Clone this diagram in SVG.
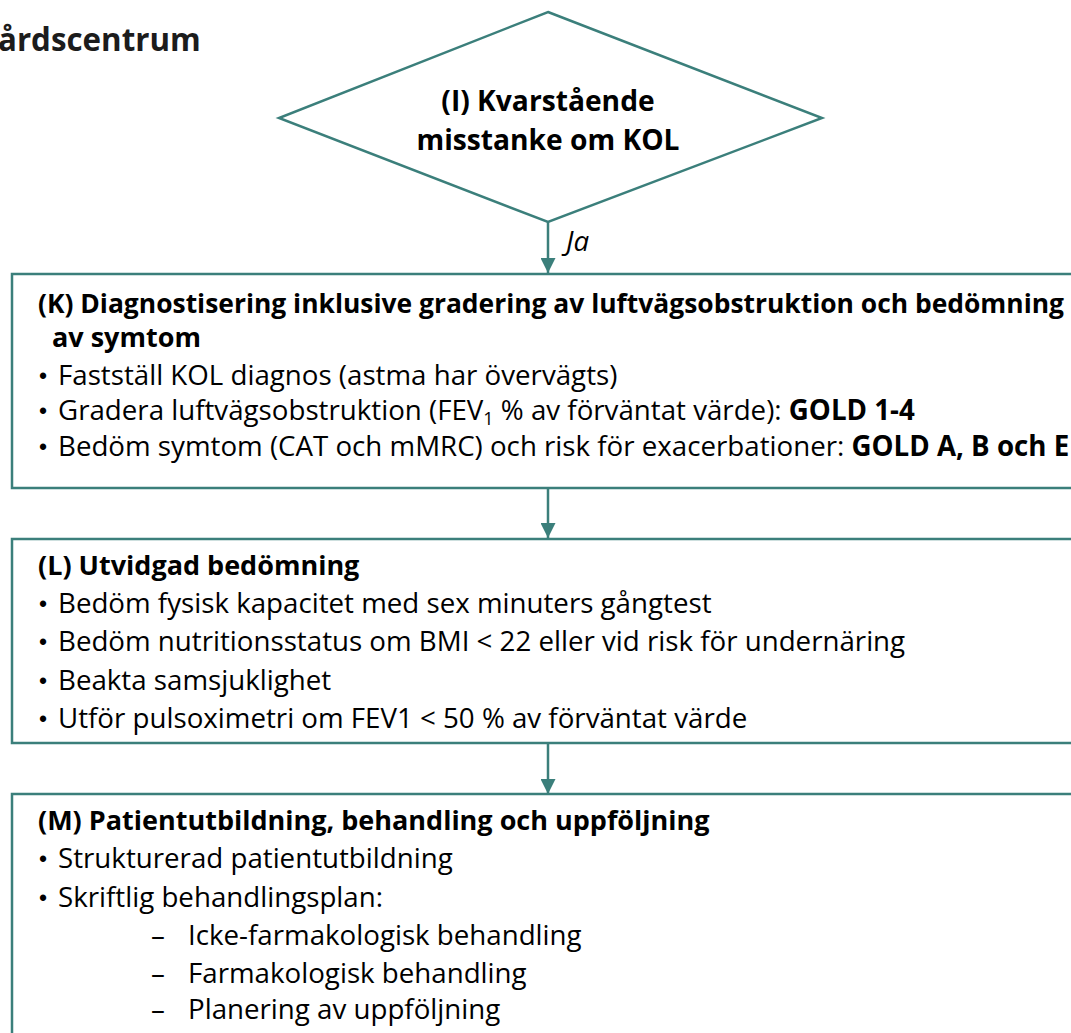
<svg xmlns="http://www.w3.org/2000/svg" width="1071" height="1033" viewBox="0 0 1071 1033">
  <defs>
    <style>
      .t { font-family: "Open Sans", Lato, sans-serif; font-size: 27.7px; fill: #000; }
      .d { font-family: "Open Sans", Lato, sans-serif; font-size: 28.2px; font-weight: bold; fill: #000; }
      .b { font-weight: bold; }
      .h { font-size: 27px; }
      .dot { font-family: "Liberation Sans", Arial, sans-serif; font-size: 23px; fill: #000; }
      .node { fill: #fff; stroke: #3b7f7b; stroke-width: 2.5; }
      .edge { stroke: #3b7f7b; stroke-width: 2.5; fill: none; }
      .hdr { font-family: "Open Sans", "Noto Sans", sans-serif; font-size: 31.3px; font-weight: bold; fill: #1c1c1c; }
    </style>
    <marker id="arr" viewBox="0 0 10 10" refX="10" refY="5" markerWidth="6" markerHeight="6" markerUnits="strokeWidth" orient="auto">
      <path d="M0,0 L10,5 L0,10 z" fill="#3b7f7b"/>
    </marker>
  </defs>
  <rect width="1071" height="1033" fill="#fff"/>

  <text class="hdr" x="-2" y="51">årdscentrum</text>

  <g id="connectors">
    <line class="edge" x1="548" y1="222" x2="548" y2="273" marker-end="url(#arr)"/>
    <text class="t" x="566" y="251" font-style="italic">Ja</text>
    <line class="edge" x1="548" y1="488" x2="548" y2="538" marker-end="url(#arr)"/>
    <line class="edge" x1="548" y1="743" x2="548" y2="794" marker-end="url(#arr)"/>
  </g>

  <g id="node-I">
    <polygon class="node" points="548,12 822,118 548,222 279,118"/>
    <text class="d" x="548" y="111" text-anchor="middle">(I) Kvarstående</text>
    <text class="d" x="548" y="150" text-anchor="middle">misstanke om KOL</text>
  </g>

  <g id="node-K">
    <rect class="node" x="12" y="274" width="1080" height="214"/>
    <text class="t b h" x="38" y="313" textLength="1026" lengthAdjust="spacingAndGlyphs">(K) Diagnostisering inklusive gradering av luftvägsobstruktion och bedömning</text>
    <text class="t b h" x="52" y="347">av symtom</text>
    <text class="dot" x="39" y="384">•</text>
    <text class="t" x="58" y="385">Fastställ KOL diagnos (astma har övervägts)</text>
    <text class="dot" x="39" y="419">•</text>
    <text class="t" x="58" y="420">Gradera luftvägsobstruktion (FEV<tspan font-size="18" baseline-shift="-5">1</tspan> % av förväntat värde): <tspan class="b">GOLD 1-4</tspan></text>
    <text class="dot" x="39" y="455">•</text>
    <text class="t" x="58" y="456">Bedöm symtom (CAT och mMRC) och risk för exacerbationer: <tspan class="b">GOLD A, B och E</tspan></text>
  </g>

  <g id="node-L">
    <rect class="node" x="12" y="539" width="1080" height="204"/>
    <text class="t b h" x="38" y="575">(L) Utvidgad bedömning</text>
    <text class="dot" x="39" y="612">•</text>
    <text class="t" x="58" y="613">Bedöm fysisk kapacitet med sex minuters gångtest</text>
    <text class="dot" x="39" y="650">•</text>
    <text class="t" x="58" y="651">Bedöm nutritionsstatus om BMI &lt; 22 eller vid risk för undernäring</text>
    <text class="dot" x="39" y="689">•</text>
    <text class="t" x="58" y="690">Beakta samsjuklighet</text>
    <text class="dot" x="39" y="727">•</text>
    <text class="t" x="58" y="728">Utför pulsoximetri om FEV1 &lt; 50 % av förväntat värde</text>
  </g>

  <g id="node-M">
    <rect class="node" x="12" y="794" width="1080" height="260"/>
    <text class="t b h" x="38" y="830">(M) Patientutbildning, behandling och uppföljning</text>
    <text class="dot" x="39" y="867">•</text>
    <text class="t" x="58" y="868">Strukturerad patientutbildning</text>
    <text class="dot" x="39" y="906">•</text>
    <text class="t" x="58" y="907">Skriftlig behandlingsplan:</text>
    <text class="t" x="151" y="945">–</text><text class="t" x="188" y="945">Icke-farmakologisk behandling</text>
    <text class="t" x="151" y="983">–</text><text class="t" x="188" y="983">Farmakologisk behandling</text>
    <text class="t" x="151" y="1019">–</text><text class="t" x="188" y="1019">Planering av uppföljning</text>
  </g>
</svg>
